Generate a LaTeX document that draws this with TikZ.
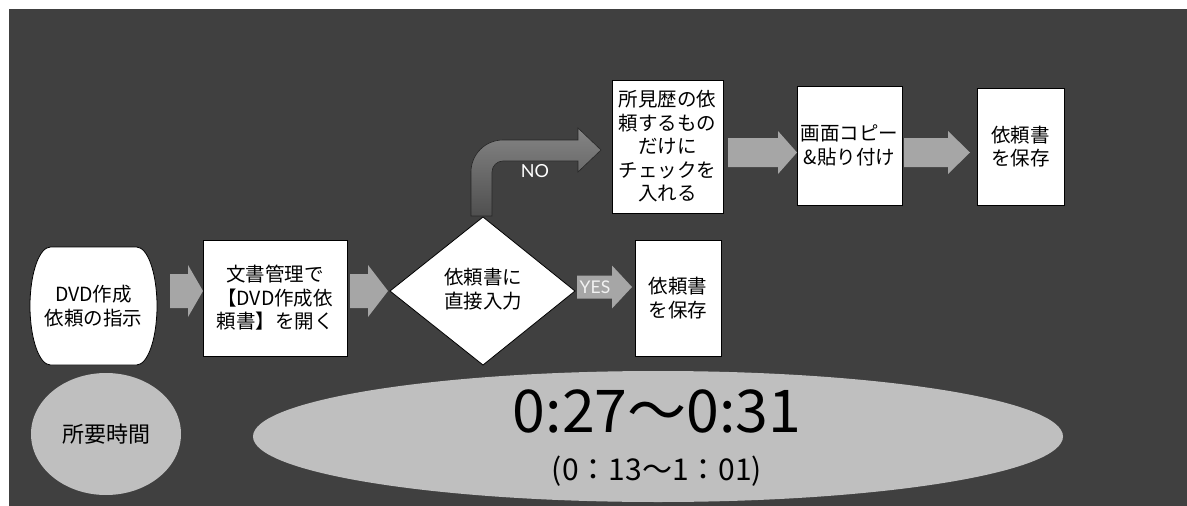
\documentclass[tikz,border=0pt]{standalone}
\usepackage{fontspec}
\setmainfont{Noto Sans CJK JP}
\newfontfamily\lbl{Lato}
\usetikzlibrary{shapes.geometric,calc}
\definecolor{bgdark}{HTML}{404040}
\definecolor{lgray}{HTML}{BFBFBF}
\definecolor{agray}{HTML}{A6A6A6}
\definecolor{nodark}{HTML}{4F4F4F}
\definecolor{nolight}{HTML}{858585}
\tikzset{
  box/.style={draw=black, line width=0.8pt, fill=white, inner sep=0pt},
  txt/.style={align=center, inner sep=0pt, font=\fontsize{19.5}{23.5}\selectfont},
  arrowfill/.style={fill=agray},
  oval/.style={ellipse, fill=lgray, inner sep=0pt},
}
\newcommand\barrow[6]{% start x, head-start x, tip x, center y, body half, head half
  \fill[arrowfill] (#1,#4-#5) -- (#2,#4-#5) -- (#2,#4-#6) -- (#3,#4) -- (#2,#4+#6) -- (#2,#4+#5) -- (#1,#4+#5) -- cycle;}
\begin{document}
\begin{tikzpicture}[x=1pt,y=-1pt]
\useasboundingbox (0,0) rectangle (1187,506);
\fill[bgdark] (9,9) rectangle (1187,506);

% start terminator
\draw[box] (50.5,247) -- (136.5,247)
  arc[start angle=-90,end angle=90,x radius=20.5,y radius=59]
  -- (50.5,365)
  arc[start angle=90,end angle=270,x radius=20.5,y radius=59] -- cycle;
\node[txt, font=\fontsize{19.5}{24}\selectfont] (start) at (93.5,306) {DVD作成\\依頼の指示};

% open document box
\node[box, minimum width=144pt, minimum height=116pt] (openbox) at (275,298) {};
\node[txt] (opentxt) at (openbox) {文書管理で\\【DVD作成依\\頼書】を開く};

% decision diamond
\coordinate (dl) at (390,291);
\coordinate (dt) at (483,217);
\coordinate (dr) at (575,291);
\coordinate (db) at (483,365);
\draw[box] (dl) -- (dt) -- (dr) -- (db) -- cycle;
\node[txt, font=\fontsize{19.5}{24}\selectfont] (dec) at (483,289) {依頼書に\\直接入力};

% lower save box
\node[box, minimum width=86pt, minimum height=116pt] (save2) at (678,298) {};
\node[txt] at (save2) {依頼書\\を保存};

% upper boxes
\node[box, minimum width=111pt, minimum height=133pt] (check) at (667.5,146.5) {};
\node[txt] at (check) {所見歴の依\\頼するもの\\だけに\\チェックを\\入れる};
\node[box, minimum width=105pt, minimum height=119pt] (copy) at (849.5,145.5) {};
\node[txt] at (copy) {画面コピー\\\&貼り付け};
\node[box, minimum width=87pt, minimum height=117pt] (save1) at (1020.5,146.5) {};
\node[txt] at (save1) {依頼書\\を保存};

% straight block arrows
\barrow{170}{188}{203}{291}{17}{26}
\barrow{350}{368}{388}{291}{17}{26}
\barrow{577}{612}{632}{287}{11.5}{21.5}
\barrow{728}{778}{797}{152.5}{14.5}{21.5}
\barrow{904}{948}{970}{152.5}{14.5}{21.5}
\node[font=\lbl\fontsize{17.5}{17.5}\selectfont, text=white!95!black] (yes) at (595,287) {YES};

% bent NO arrow
\draw[draw=black!85, line width=0.6pt, top color=nolight, bottom color=nodark]
  (471,216) -- (471,172)
  arc[start angle=180,end angle=270,radius=32]
  -- (578,140) -- (578,128) -- (601,150) -- (578,172) -- (578,161) -- (503,161)
  arc[start angle=270,end angle=180,radius=11]
  -- (492,216) -- cycle;
\node[font=\lbl\fontsize{18}{18}\selectfont, text=white] (no) at (535,171) {NO};

% time ellipses
\node[oval, minimum width=150pt, minimum height=122pt,
  font=\fontsize{22}{22}\selectfont] (req) at (106,434) {所要時間};
\node[oval, minimum width=810pt, minimum height=131pt] (time) at (658,436.5) {};
\node[inner sep=0pt, font=\fontsize{59}{59}\selectfont] (t1) at (657,411) {0:27〜0:31};
\node[inner sep=0pt, font=\fontsize{30}{30}\selectfont] (t2) at (657,471) {(0：13〜1：01)};
\end{tikzpicture}
\end{document}
